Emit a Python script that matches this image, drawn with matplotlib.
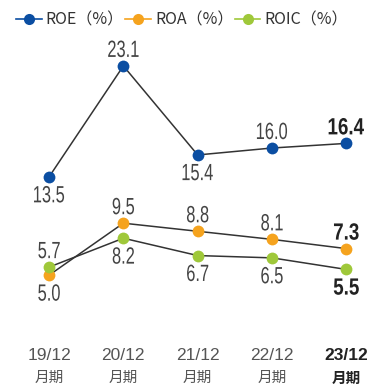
import matplotlib
matplotlib.use("Agg")
import matplotlib.pyplot as plt
from matplotlib.lines import Line2D
from matplotlib.textpath import TextPath
from matplotlib.patches import PathPatch
from matplotlib.font_manager import FontProperties
from matplotlib.transforms import Affine2D, IdentityTransform

periods = ["19/12", "20/12", "21/12", "22/12", "23/12"]
period_suffix = "月期"
roe = [13.5, 23.1, 15.4, 16.0, 16.4]
roa = [5.0, 9.5, 8.8, 8.1, 7.3]
roic = [5.7, 8.2, 6.7, 6.5, 5.5]

# label placement: +1 above the point, -1 below
roe_pos = [-1, 1, -1, 1, 1]
roa_pos = [-1, 1, 1, 1, 1]
roic_pos = [1, -1, -1, -1, -1]

series = [
    ("ROE（%）", roe, roe_pos, "#0b4ea2"),
    ("ROA（%）", roa, roa_pos, "#f5a31e"),
    ("ROIC（%）", roic, roic_pos, "#9fc83a"),
]

cjk_font = ["Noto Sans CJK JP", "DejaVu Sans"]

fig = plt.figure(figsize=(3.79, 3.89), dpi=100)
ax = fig.add_axes([0, 0, 1, 1])
ax.set_xlim(-0.66, 4.44)
ax.set_ylim(-4.84, 28.8)
ax.axis("off")

x = list(range(len(periods)))
last = len(periods) - 1


def condensed_label(s, xd, yd, above, bold):
    # narrow number label drawn as a horizontally squeezed text path
    prop = FontProperties(family="Liberation Sans",
                          weight="bold" if bold else "normal")
    tp = TextPath((0, 0), s, size=23.5, prop=prop)
    bb = tp.get_extents()
    sx = 0.8 if bold else 0.7
    px, py = ax.transData.transform((xd, yd))
    gap = 9
    if above:
        ty = py + gap
    else:
        ty = py - gap - bb.y1
    tx = px - sx * (bb.x0 + bb.x1) / 2
    tr = Affine2D().scale(sx, 1).translate(tx, ty)
    color = "#222222" if bold else "#444444"
    patch = PathPatch(tr.transform_path(tp), transform=IdentityTransform(),
                      facecolor=color, edgecolor="none", clip_on=False)
    fig.add_artist(patch)


for name, vals, pos, color in series:
    ax.plot(x, vals, color="#333333", lw=1.1, zorder=2)
    ax.plot(x, vals, ls="none", marker="o", ms=8.5, color=color,
            markeredgewidth=0, zorder=3)
    for i, (v, p) in enumerate(zip(vals, pos)):
        condensed_label(f"{v:.1f}", i, v, p > 0, i == last)

# period labels along the bottom
for i, per in enumerate(periods):
    bold = i == last
    c = "#222222" if bold else "#555555"
    w = "bold" if bold else "normal"
    ax.text(i, -1.9, per, ha="center", va="center", fontsize=12.5,
            family=["Liberation Sans", "DejaVu Sans"], fontweight=w, color=c)
    ax.text(i, -3.85, period_suffix, ha="center", va="center", fontsize=10.5,
            family=cjk_font, fontweight=w, color=c)

handles = [Line2D([0], [0], color=color, lw=1.2, marker="o", ms=8,
                  markeredgewidth=0) for _, _, _, color in series]
labels = [s[0] for s in series]
leg = fig.legend(handles, labels, loc="upper left", bbox_to_anchor=(0.013, 1.0),
                 ncol=3, frameon=False, handlelength=1.6, handletextpad=0.25,
                 columnspacing=0.1, borderaxespad=0.3,
                 prop={"family": cjk_font, "size": 11.5})
for t in leg.get_texts():
    t.set_color("#333333")

fig.savefig("out.png", dpi=100)
